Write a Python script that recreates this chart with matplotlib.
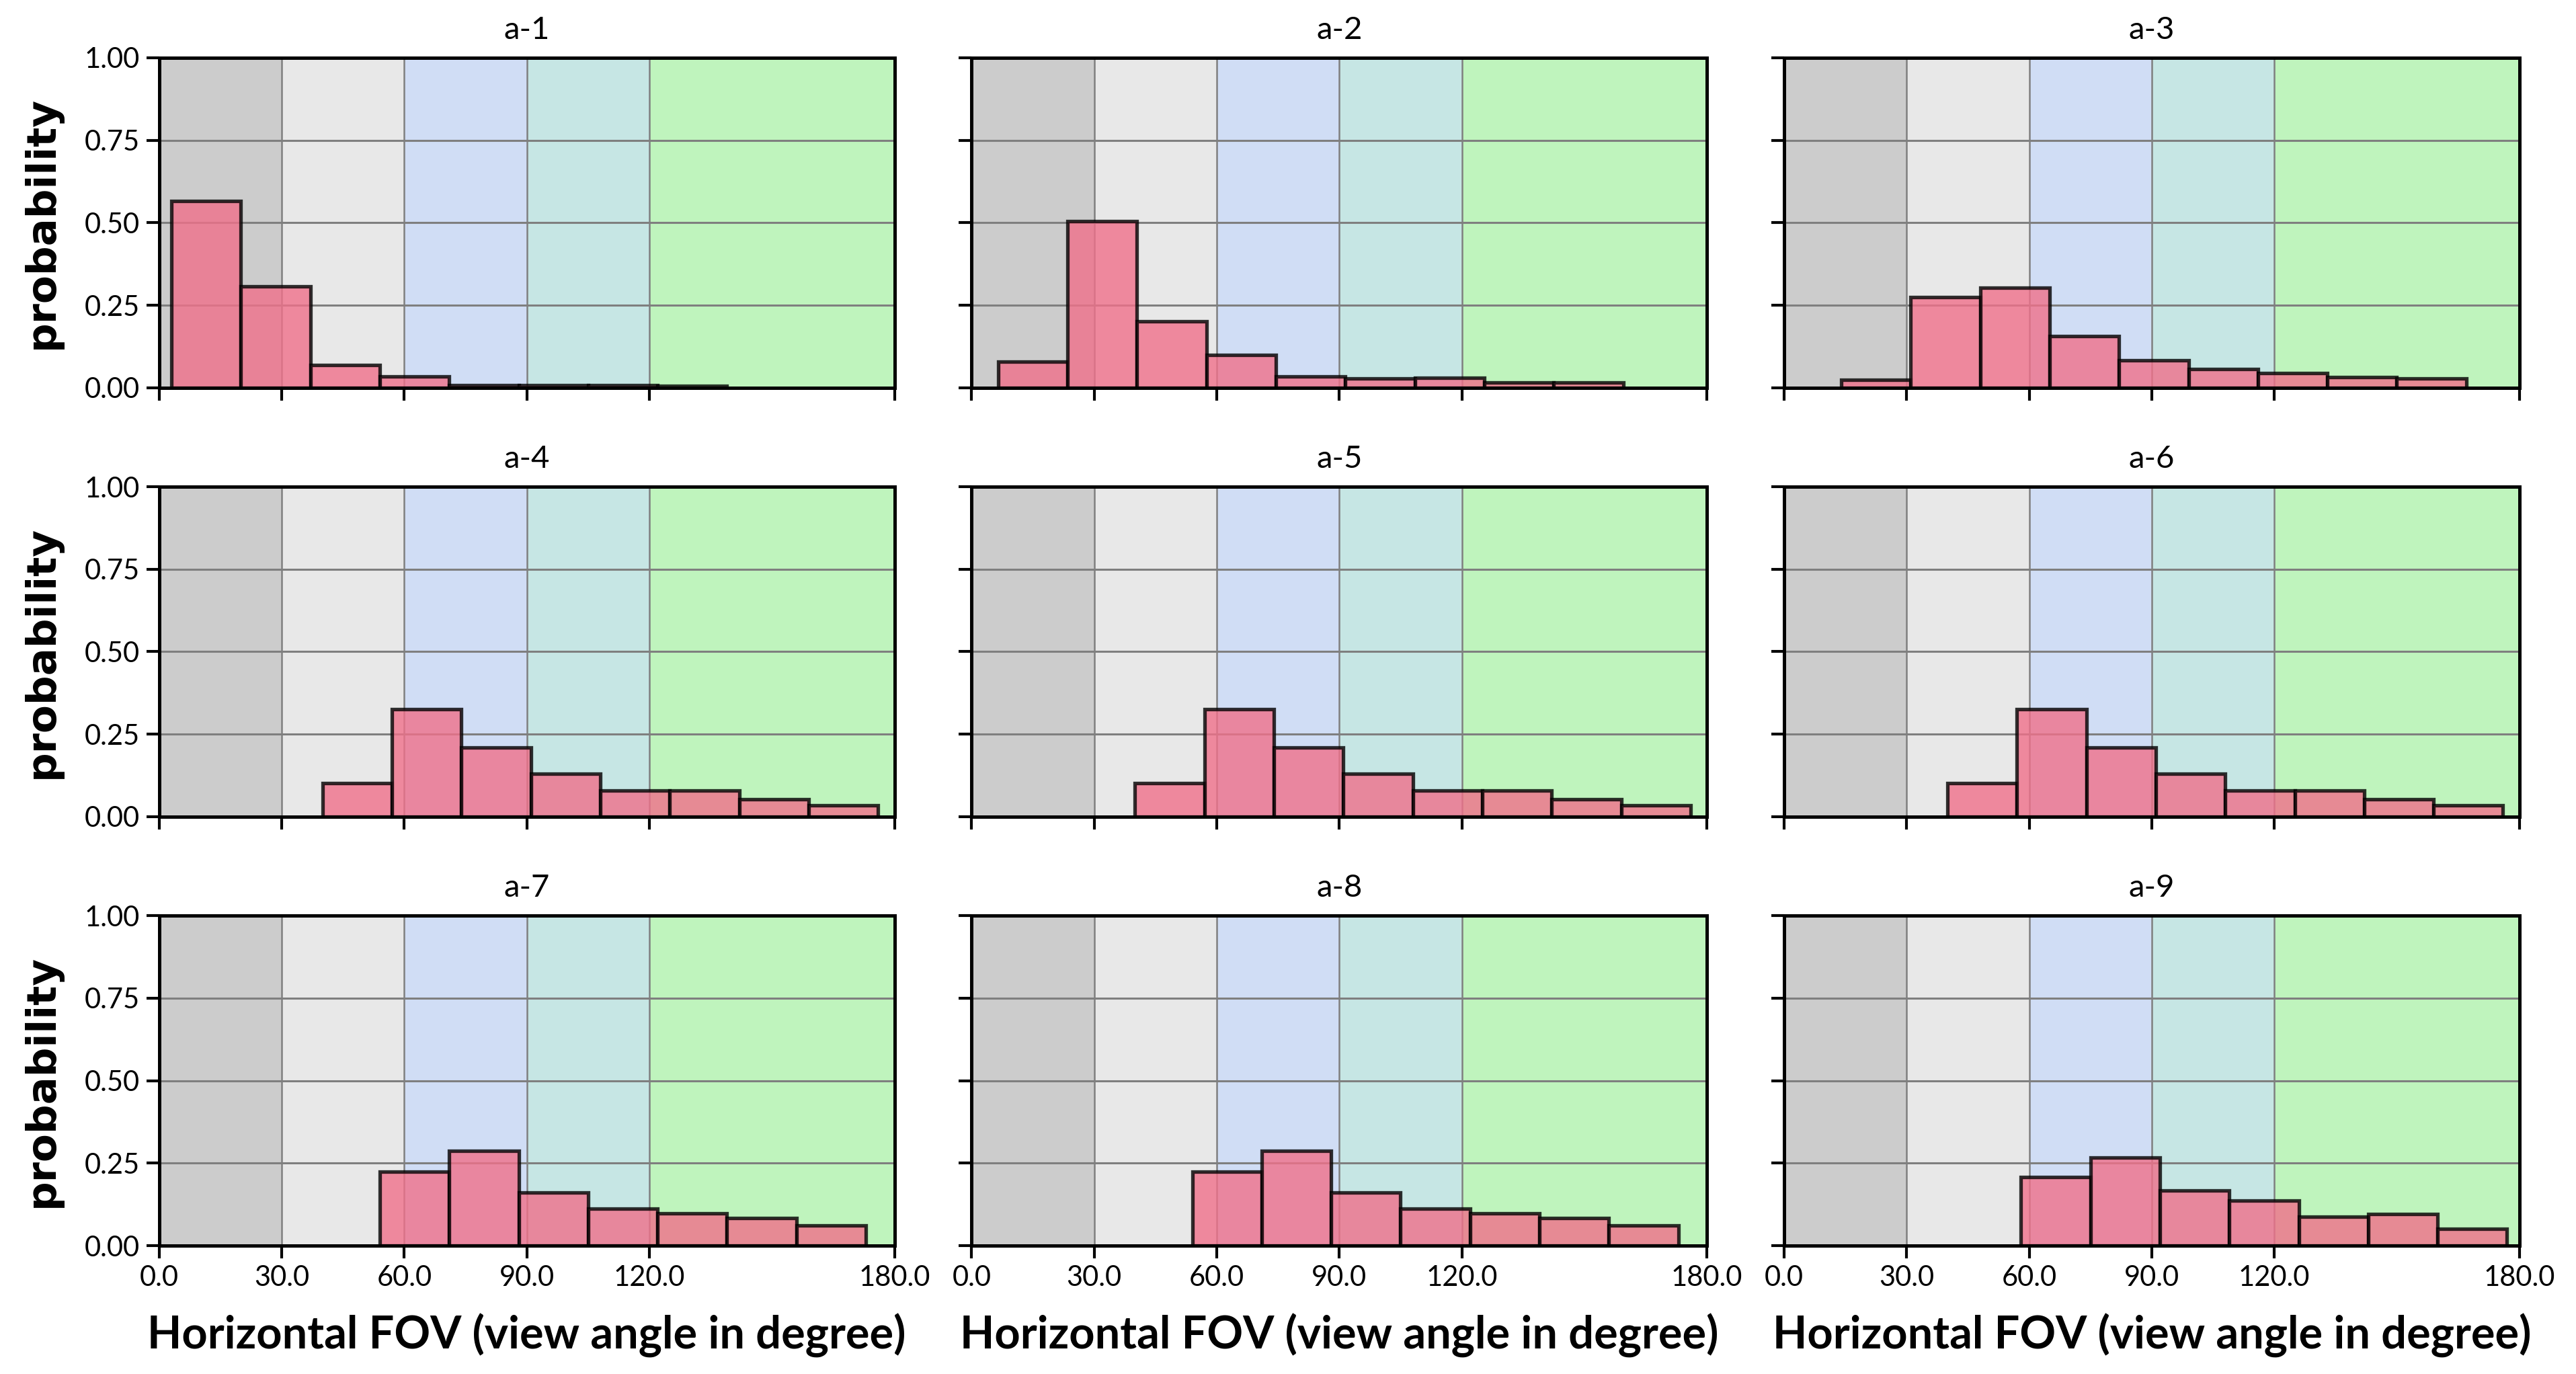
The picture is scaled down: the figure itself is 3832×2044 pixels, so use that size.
import numpy as np
import matplotlib
matplotlib.use("Agg")
import matplotlib.pyplot as plt

# panel titles
titles = ["a-1", "a-2", "a-3", "a-4", "a-5", "a-6", "a-7", "a-8", "a-9"]

# histogram bin edges (degrees) and probabilities
edges_1 = [3, 20, 37, 54, 71, 88, 105, 122, 139]
probs_1 = [0.565, 0.308, 0.068, 0.034, 0.008, 0.007, 0.007, 0.006]

edges_2 = [6.5, 23.5, 40.5, 57.5, 74.5, 91.5, 108.5, 125.5, 142.5, 159.5]
probs_2 = [0.078, 0.504, 0.201, 0.100, 0.034, 0.027, 0.030, 0.016, 0.016]

edges_3 = [14, 31, 48, 65, 82, 99, 116, 133, 150, 167]
probs_3 = [0.023, 0.274, 0.302, 0.157, 0.084, 0.056, 0.044, 0.032, 0.028]

edges_4 = [40, 57, 74, 91, 108, 125, 142, 159, 176]
probs_4 = [0.102, 0.326, 0.209, 0.131, 0.080, 0.080, 0.052, 0.035]

edges_7 = [54, 71, 88, 105, 122, 139, 156, 173]
probs_7 = [0.225, 0.287, 0.162, 0.112, 0.097, 0.084, 0.061]

edges_9 = [58, 75, 92, 109, 126, 143, 160, 177]
probs_9 = [0.208, 0.267, 0.167, 0.136, 0.087, 0.095, 0.051]

panels = [
    (edges_1, probs_1), (edges_2, probs_2), (edges_3, probs_3),
    (edges_4, probs_4), (edges_4, probs_4), (edges_4, probs_4),
    (edges_7, probs_7), (edges_7, probs_7), (edges_9, probs_9),
]

# FOV zones shading
zone_edges = [0, 30, 60, 90, 120, 180]
zone_colors = ["#cccccc", "#e8e8e8", "#d0ddf5", "#c6e6e4", "#bff4bd"]

x_ticks = [0, 30, 60, 90, 120, 180]
x_ticklabels = ["0.0", "30.0", "60.0", "90.0", "120.0", "180.0"]
y_ticks = [0.0, 0.25, 0.5, 0.75, 1.0]
y_ticklabels = ["0.00", "0.25", "0.50", "0.75", "1.00"]

narrow = ["Lato", "DejaVu Sans"]


def main():
    fig, axes = plt.subplots(3, 3, figsize=(19.16, 10.22), dpi=200)
    fig.subplots_adjust(left=0.0618, right=0.978, top=0.958, bottom=0.0934,
                        wspace=0.105, hspace=0.30)

    for k, ax in enumerate(axes.ravel()):
        row, col = divmod(k, 3)
        edges, probs = panels[k]

        for i in range(len(zone_colors)):
            ax.axvspan(zone_edges[i], zone_edges[i + 1], color=zone_colors[i],
                       zorder=0, lw=0)

        for v in [30, 60, 90, 120]:
            ax.axvline(v, color="#7f7f7f", lw=0.9, zorder=0.5)
        for h in [0.25, 0.5, 0.75]:
            ax.axhline(h, color="#7f7f7f", lw=1.1, zorder=0.5)

        ax.bar(edges[:-1], probs, width=np.diff(edges), align="edge",
               color="#f0708a", alpha=0.8, edgecolor="black", linewidth=1.9,
               zorder=2)

        ax.set_xlim(0, 180)
        ax.set_ylim(0, 1.0)
        ax.set_xticks(x_ticks)
        ax.set_yticks(y_ticks)
        ax.tick_params(length=7, width=1.5, labelsize=15)
        for s in ax.spines.values():
            s.set_linewidth(1.8)

        if row == 2:
            ax.set_xticklabels(x_ticklabels, family=narrow)
            ax.set_xlabel("Horizontal FOV (view angle in degree)", fontsize=24,
                          fontweight="bold", family=narrow, labelpad=12)
        else:
            ax.set_xticklabels([])
        if col == 0:
            ax.set_yticklabels(y_ticklabels, family=narrow)
            ax.set_ylabel("probability", fontsize=22, fontweight="bold",
                          family="DejaVu Sans", labelpad=12)
        else:
            ax.set_yticklabels([])

        ax.set_title(titles[k], fontsize=17, family=narrow, pad=10)

    fig.savefig("out.png", dpi=200)


if __name__ == "__main__":
    main()
